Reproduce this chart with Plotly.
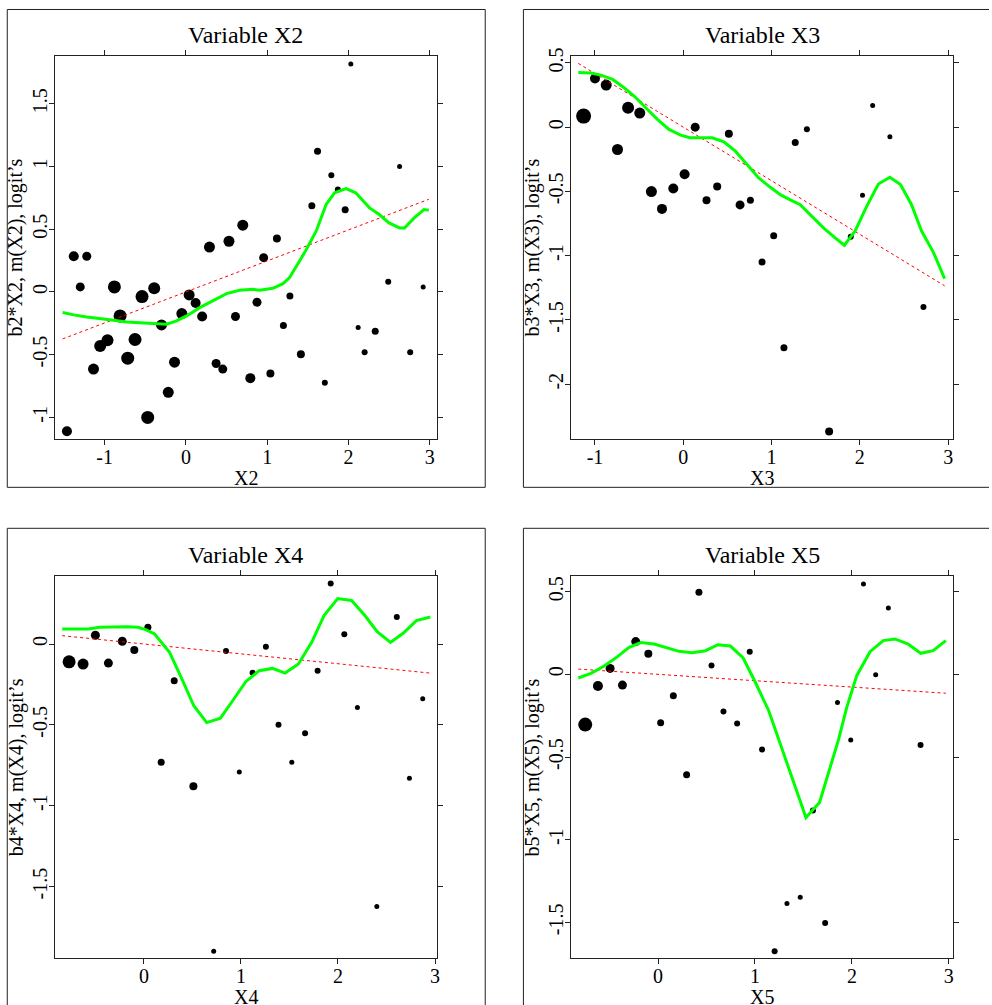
import plotly.graph_objects as go

# ---------------- data ----------------
# Panel X2
x2_px = [-1.464, -1.38, -1.22, -1.30, -1.137, -1.055, -0.965, -0.88, -0.81, -0.716, -0.626, -0.54, -0.47,
         -0.39, -0.30, -0.217, -0.14, -0.05, 0.04, 0.12, 0.20, 0.29, 0.372, 0.454, 0.53, 0.61, 0.70, 0.793,
         0.875, 0.957, 1.04, 1.12, 1.20, 1.28, 1.415, 1.55, 1.62, 1.71, 1.79, 1.87, 1.96, 2.03, 2.12, 2.20,
         2.33, 2.49, 2.63, 2.76, 2.92]
x2_py = [-1.111, 0.284, 0.284, 0.04, -0.615, -0.43, -0.385, 0.04, -0.191, -0.528, -0.379, -0.037, -1.0,
         0.029, -0.263, -0.80, -0.56, -0.172, -0.024, -0.088, -0.196, 0.358, -0.57, -0.615, 0.404, -0.196,
         0.532, -0.687, -0.082, 0.273, -0.65, 0.426, -0.268, -0.032, -0.496, 0.686, 1.122, -0.724, 0.93,
         0.816, 0.654, 1.817, -0.284, -0.48, -0.313, 0.082, 1.0, -0.48, 0.04]
x2_ps = [10, 10, 9, 9, 11, 12, 12, 13, 13, 13, 13, 13, 13, 12, 11, 11, 11, 11, 11, 10, 10, 11, 9, 9, 11, 9,
         11, 10, 9, 9, 8, 8, 7, 7, 8, 7, 7, 6, 6, 6, 7, 5, 5, 6, 7, 6, 5, 6, 5]
x2_gx = [-1.517, -1.38, -1.22, -1.055, -0.89, -0.73, -0.564, -0.40, -0.237, -0.115, 0.008, 0.17, 0.335,
         0.50, 0.66, 0.826, 0.908, 1.07, 1.195, 1.276, 1.399, 1.47, 1.603, 1.726, 1.83, 1.97, 2.09, 2.26,
         2.38, 2.50, 2.63, 2.69, 2.81, 2.93, 2.99]
x2_gy = [-0.164, -0.183, -0.199, -0.21, -0.225, -0.239, -0.247, -0.252, -0.257, -0.231, -0.191, -0.125,
         -0.066, -0.013, 0.013, 0.021, 0.013, 0.029, 0.066, 0.114, 0.247, 0.325, 0.484, 0.697, 0.79, 0.824,
         0.79, 0.67, 0.617, 0.55, 0.51, 0.51, 0.59, 0.657, 0.652]
b2 = 0.247

# Panel X3
x3_px = [-1.129, -1.0, -0.873, -0.745, -0.625, -0.493, -0.361, -0.241, -0.113, 0.015, 0.135, 0.263, 0.384,
         0.516, 0.643, 0.76, 1.024, 1.268, 1.40, 1.897, 2.03, 2.145, 2.34, 0.892, 1.14, 1.652, 2.72]
x3_py = [0.086, 0.379, 0.327, -0.174, 0.151, 0.109, -0.501, -0.636, -0.478, -0.366, 0.0, -0.569, -0.462,
         -0.052, -0.605, -0.569, -0.844, -0.119, -0.016, -0.852, -0.53, 0.169, -0.075, -1.049, -1.716,
         -2.367, -1.40]
x3_ps = [15, 10, 11, 11, 12, 11, 11, 10, 10, 10, 9, 8, 8, 8, 9, 7, 7, 7, 6, 6, 5, 5, 5, 7, 7, 8, 6]
x3_gx = [-1.189, -1.046, -0.933, -0.80, -0.67, -0.557, -0.425, -0.293, -0.162, -0.03, 0.075, 0.196, 0.327,
         0.459, 0.59, 0.722, 0.854, 0.986, 1.099, 1.212, 1.325, 1.437, 1.588, 1.72, 1.825, 1.945, 2.077,
         2.21, 2.34, 2.46, 2.585, 2.70, 2.83, 2.96]
x3_gy = [0.426, 0.421, 0.405, 0.371, 0.306, 0.242, 0.151, 0.06, -0.018, -0.062, -0.083, -0.083, -0.083,
         -0.114, -0.187, -0.291, -0.395, -0.468, -0.525, -0.566, -0.603, -0.681, -0.784, -0.862, -0.919,
         -0.81, -0.616, -0.442, -0.39, -0.447, -0.603, -0.81, -0.97, -1.178]
b3 = -0.417

# Panel X4
x4_px = [-0.771, -0.627, -0.50, -0.366, -0.223, -0.099, 0.041, 0.312, 0.846, 1.12, 1.257, 1.387, 1.661,
         1.79, 1.925, 2.065, 2.20, 2.606, 2.873, 0.178, 0.51, 0.983, 1.524, 2.736, 0.719, 2.40]
x4_py = [-0.110, -0.124, 0.054, -0.118, 0.017, -0.037, 0.103, -0.227, -0.043, -0.178, -0.017, -0.50,
         -0.552, -0.165, 0.374, 0.06, -0.393, 0.167, -0.339, -0.731, -0.880, -0.792, -0.731, -0.831,
         -1.90, -1.624]
x4_ps = [13, 11, 9, 9, 9, 8, 7, 7, 6, 6, 6, 6, 6, 6, 6, 6, 5, 6, 5, 7, 8, 5, 5, 5, 5, 5]
x4_gx = [-0.842, -0.695, -0.575, -0.455, -0.318, -0.18, -0.06, 0.024, 0.11, 0.195, 0.264, 0.384, 0.514,
         0.647, 0.788, 0.914, 1.05, 1.188, 1.325, 1.455, 1.592, 1.729, 1.856, 1.997, 2.14, 2.277, 2.404,
         2.541, 2.671, 2.808, 2.952]
x4_gy = [0.093, 0.093, 0.093, 0.103, 0.107, 0.107, 0.103, 0.087, 0.062, 0.0, -0.052, -0.207, -0.382,
         -0.486, -0.459, -0.351, -0.233, -0.165, -0.151, -0.18, -0.124, 0.01, 0.176, 0.281, 0.269, 0.176,
         0.076, 0.01, 0.066, 0.145, 0.167]
b4 = -0.061

# Panel X5
x5_px = [-0.751, -0.62, -0.494, -0.367, -0.23, -0.10, 0.027, 0.158, 0.422, 0.552, 0.675, 0.816, 0.946,
         1.851, 1.988, 2.119, 2.245, 2.376, 2.708, 0.295, 1.073, 1.598, 1.33, 1.467, 1.724, 1.203]
x5_py = [-0.304, -0.071, 0.036, -0.065, 0.198, 0.125, -0.292, -0.129, 0.496, 0.054, -0.224, -0.298, 0.137,
         -0.171, -0.397, 0.546, -0.002, 0.401, -0.427, -0.607, -0.454, -0.823, -1.385, -1.348, -1.504,
         -1.674]
x5_ps = [14, 10, 9, 9, 9, 8, 7, 7, 7, 6, 6, 6, 6, 5, 5, 5, 5, 5, 6, 7, 6, 6, 5, 5, 6, 6]
x5_gx = [-0.823, -0.692, -0.555, -0.418, -0.298, -0.178, -0.041, 0.096, 0.216, 0.353, 0.49, 0.617, 0.747,
         0.878, 1.004, 1.142, 1.262, 1.399, 1.526, 1.666, 1.759, 1.862, 1.947, 2.05, 2.187, 2.324, 2.444,
         2.58, 2.71, 2.838, 2.969]
x5_gy = [-0.022, 0.006, 0.05, 0.107, 0.163, 0.192, 0.183, 0.157, 0.139, 0.131, 0.143, 0.179, 0.171, 0.099,
         -0.048, -0.22, -0.42, -0.658, -0.866, -0.775, -0.597, -0.395, -0.2, -0.008, 0.137, 0.204, 0.214,
         0.183, 0.127, 0.143, 0.204]
b5 = -0.0385

# axis ticks / labels
x_ticks_a = [-1, 0, 1, 2, 3]
x_ticks_b = [0, 1, 2, 3]
y_ticks_2 = [-1, -0.5, 0, 0.5, 1, 1.5]
y_ticks_3 = [-2, -1.5, -1, -0.5, 0, 0.5]
y_ticks_4 = [-1.5, -1, -0.5, 0]
y_ticks_5 = [-1.5, -1, -0.5, 0, 0.5]


def lab(v):
    return "%g" % v


panels = [
    dict(name="X2", px=x2_px, py=x2_py, ps=x2_ps, gx=x2_gx, gy=x2_gy, b=b2,
         xt=x_ticks_a, yt=y_ticks_2, xr=[-1.613, 3.09], yr=[-1.172, 1.880]),
    dict(name="X3", px=x3_px, py=x3_py, ps=x3_ps, gx=x3_gx, gy=x3_gy, b=b3,
         xt=x_ticks_a, yt=y_ticks_3, xr=[-1.272, 3.056], yr=[-2.426, 0.553]),
    dict(name="X4", px=x4_px, py=x4_py, ps=x4_ps, gx=x4_gx, gy=x4_gy, b=b4,
         xt=x_ticks_b, yt=y_ticks_4, xr=[-0.918, 3.02], yr=[-1.945, 0.419]),
    dict(name="X5", px=x5_px, py=x5_py, ps=x5_ps, gx=x5_gx, gy=x5_gy, b=b5,
         xt=x_ticks_b, yt=y_ticks_5, xr=[-0.898, 3.044], yr=[-1.718, 0.593]),
]

W, H = 992, 1005


def vy(y):
    # compensate the vertical offset observed in the rendered page
    return max(0.5, (y - 7.9) / 0.992)


# plot-area pixel boxes (left, right, top, bottom) in target picture pixels
boxes = [(55, 438.3, 55, 438.3), (572.7, 956, 55, 438.3),
         (55, 438.3, 575.7, 958.3), (572.7, 956, 575.7, 958.3)]
# figure-region frames (None = side lies outside the page)
frames = [(7.3, 486.7, 7.3, 486.7), (525, None, 7.3, 486.7),
          (7.3, 486.7, 527.7, None), (525, None, 527.7, None)]

FONT = "Liberation Serif, Times New Roman, serif"
fig = go.Figure()
layout = dict(width=W, height=H, margin=dict(l=0, r=0, t=0, b=0),
              paper_bgcolor="white", plot_bgcolor="white", showlegend=False,
              hovermode=False, font=dict(family=FONT, size=20, color="black"))
annotations = []
shapes = []

for i, p in enumerate(panels):
    n = i + 1
    xa = "x" if n == 1 else "x%d" % n
    ya = "y" if n == 1 else "y%d" % n
    L, R, T, B = boxes[i]
    Td, Bd = vy(T), vy(B)
    fig.add_trace(go.Scatter(x=p["px"], y=p["py"], mode="markers", xaxis=xa, yaxis=ya,
                             marker=dict(color="black", size=p["ps"], opacity=1, line=dict(width=0))))
    rx = [p["gx"][0], p["gx"][-1]]
    fig.add_trace(go.Scatter(x=rx, y=[p["b"] * v for v in rx], mode="lines", xaxis=xa, yaxis=ya,
                             line=dict(color="red", width=1, dash="dot")))
    fig.add_trace(go.Scatter(x=p["gx"], y=p["gy"], mode="lines", xaxis=xa, yaxis=ya,
                             line=dict(color="#00ff00", width=3)))
    common = dict(showline=True, mirror="ticks", linecolor="#222", linewidth=1,
                  ticks="outside", ticklen=5, tickwidth=1, tickcolor="#222",
                  showgrid=False, zeroline=False, tickfont=dict(family=FONT, size=20),
                  fixedrange=True)
    layout["xaxis" if n == 1 else "xaxis%d" % n] = dict(
        domain=[L / W, R / W], range=p["xr"], anchor=ya, ticklabelstandoff=-5,
        tickvals=p["xt"], ticktext=[lab(v) for v in p["xt"]], **common)
    layout["yaxis" if n == 1 else "yaxis%d" % n] = dict(
        domain=[1 - Bd / H, 1 - Td / H], range=p["yr"], anchor=xa, tickangle=-90,
        ticklabelstandoff=-6,
        tickvals=p["yt"], ticktext=[lab(v) for v in p["yt"]], **common)
    cx = (L + R) / 2 / W
    cy = 1 - (Td + Bd) / 2 / H
    annotations.append(dict(text="Variable " + p["name"], x=cx, y=1 - vy(T - 21) / H, xref="paper",
                            yref="paper", showarrow=False, xanchor="center", yanchor="middle",
                            font=dict(family=FONT, size=24)))
    annotations.append(dict(text=p["name"], x=cx, y=1 - vy(B + 39) / H, xref="paper", yref="paper",
                            showarrow=False, xanchor="center", yanchor="middle",
                            font=dict(family=FONT, size=20)))
    annotations.append(dict(text="b%s*%s, m(%s), logit\u2019s" % (p["name"][1:], p["name"], p["name"]),
                            x=(L - 39) / W, y=cy, xref="paper", yref="paper", showarrow=False,
                            xanchor="center", yanchor="middle", textangle=-90,
                            font=dict(family=FONT, size=20)))
    fl, fr, ft, fb = frames[i]
    ftd = vy(ft)
    xr_ = W if fr is None else fr
    ybd = H if fb is None else vy(fb)
    segs = [(fl, ftd, xr_, ftd), (fl, ftd, fl, ybd)]
    if fr is not None:
        segs.append((fr, ftd, fr, ybd))
    if fb is not None:
        segs.append((fl, ybd, xr_, ybd))
    for (ax0, ay0, ax1, ay1) in segs:
        shapes.append(dict(type="line", xref="paper", yref="paper", x0=ax0 / W, x1=ax1 / W,
                           y0=1 - ay0 / H, y1=1 - ay1 / H, line=dict(color="#222", width=1)))

layout["annotations"] = annotations
layout["shapes"] = shapes
fig.update_layout(**layout)
fig.write_html(
    "out.html",
    config={"displayModeBar": False, "staticPlot": True},
    post_script=(
        "document.documentElement.style.margin='0';document.documentElement.style.padding='0';"
        "document.documentElement.style.overflow='hidden';"
        "document.body.style.margin='0';document.body.style.padding='0';"
        "document.body.style.overflow='hidden';"
        "var d=document.getElementById('{plot_id}');"
        "d.style.position='absolute';d.style.left='0px';d.style.top='0px';"
    ),
)
